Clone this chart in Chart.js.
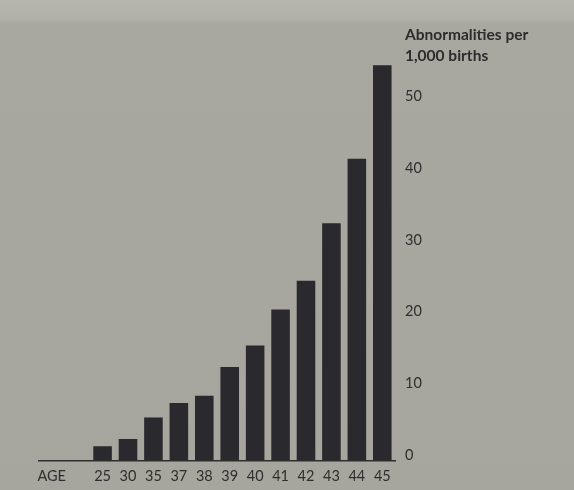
<!DOCTYPE html>
<html lang="en">
<head>
  <meta charset="UTF-8">
  <script src="https://cdn.jsdelivr.net/npm/chart.js"></script>
  <title>Abnormalities per 1,000 births</title>
  <style>
    html, body { margin: 0; padding: 0; }
    body {
      width: 574px; height: 490px; overflow: hidden; position: relative;
      background: linear-gradient(to bottom, #b6b5ae 0px, #b1b0a9 18px, #a8a7a0 24px, #a6a59e 100%);
    }
    .wrap { position: absolute; left: 0; top: 0; width: 574px; height: 490px; }
    .title {
      position: absolute; left: 405px; top: 24px;
      font-family: Lato, sans-serif; font-weight: bold; font-size: 15.5px;
      line-height: 21px; color: #2c2c2c;
    }
  </style>
</head>
<body>
  <div class="wrap"><canvas id="chart"></canvas></div>
  <div class="title">Abnormalities per<br>1,000 births</div>
  <script>
    // mother's age and chromosomal abnormalities per 1,000 births
    const axisLabel = 'AGE';
    const ages = ['25', '30', '35', '37', '38', '39', '40', '41', '42', '43', '44', '45'];
    const rates = [2, 3, 6, 8, 9, 13, 16, 21, 25, 33, 42, 55];
    const yTicks = [0, 10, 20, 30, 40, 50];

    // first slot holds the AGE label, second one is an empty gap
    const labels = [axisLabel, ''].concat(ages);
    const values = [null, null].concat(rates);

    const ctx = document.getElementById('chart').getContext('2d');
    new Chart(ctx, {
      type: 'bar',
      data: {
        labels: labels,
        datasets: [{
          data: values,
          backgroundColor: '#2a292d',
          barPercentage: 0.73,
          categoryPercentage: 1.0
        }]
      },
      options: {
        responsive: true,
        maintainAspectRatio: false,
        animation: false,
        layout: { padding: { left: 39, top: 58, right: 0, bottom: -3 } },
        plugins: { legend: { display: false }, tooltip: { enabled: false } },
        scales: {
          x: {
            grid: { display: false, drawTicks: false },
            border: { display: true, color: '#2e2e2e', width: 1.5 },
            ticks: {
              color: '#2e2e2e', padding: 9, maxRotation: 0, autoSkip: false,
              font: { family: 'Lato', size: 14.5, lineHeight: 1 }
            }
          },
          y: {
            position: 'right',
            min: 0,
            max: 56,
            grid: { display: false, drawTicks: false },
            border: { display: false },
            afterBuildTicks: (scale) => {
              scale.ticks = yTicks.map(v => ({ value: v }));
            },
            afterFit: (scale) => { scale.width = 179; },
            ticks: {
              color: '#2e2e2e', padding: 10, labelOffset: -5,
              font: { family: 'Lato', size: 14.5 }
            }
          }
        }
      }
    });
  </script>
</body>
</html>
